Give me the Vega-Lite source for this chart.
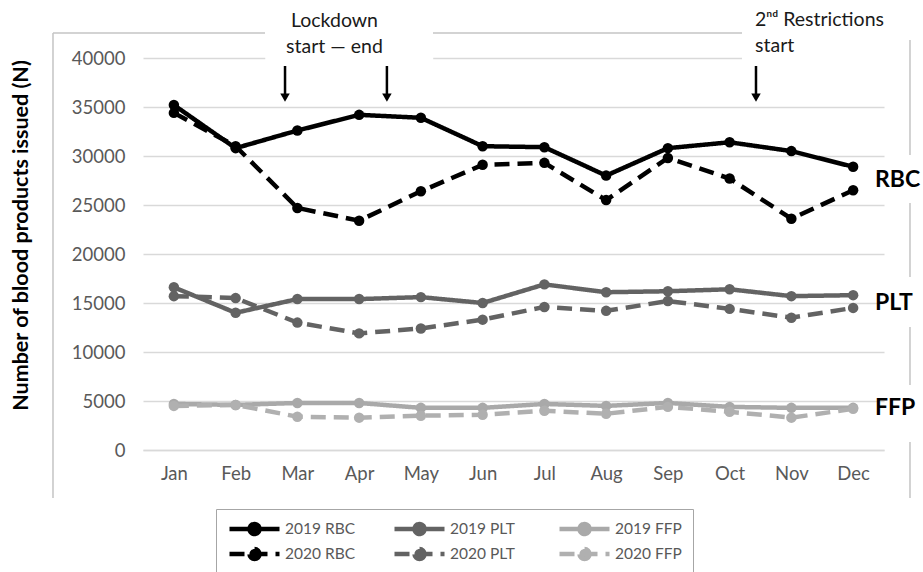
{
  "$schema": "https://vega.github.io/schema/vega-lite/v6.json",
  "width": 741,
  "height": 392,
  "autosize": {"type": "none"},
  "padding": {"left": 143, "top": 58, "right": 39, "bottom": 122},
  "background": "white",
  "config": {"view": {"stroke": null}, "font": "Lato"},
  "layer": [
    {
      "data": {"values": [
        {"m": 1, "series": "2019 RBC", "n": 35200}, {"m": 2, "series": "2019 RBC", "n": 30800}, {"m": 3, "series": "2019 RBC", "n": 32600}, {"m": 4, "series": "2019 RBC", "n": 34200}, {"m": 5, "series": "2019 RBC", "n": 33900}, {"m": 6, "series": "2019 RBC", "n": 31000}, {"m": 7, "series": "2019 RBC", "n": 30900}, {"m": 8, "series": "2019 RBC", "n": 28000}, {"m": 9, "series": "2019 RBC", "n": 30800}, {"m": 10, "series": "2019 RBC", "n": 31400}, {"m": 11, "series": "2019 RBC", "n": 30500}, {"m": 12, "series": "2019 RBC", "n": 28900},
        {"m": 1, "series": "2019 PLT", "n": 16600}, {"m": 2, "series": "2019 PLT", "n": 14000}, {"m": 3, "series": "2019 PLT", "n": 15400}, {"m": 4, "series": "2019 PLT", "n": 15400}, {"m": 5, "series": "2019 PLT", "n": 15600}, {"m": 6, "series": "2019 PLT", "n": 15000}, {"m": 7, "series": "2019 PLT", "n": 16900}, {"m": 8, "series": "2019 PLT", "n": 16100}, {"m": 9, "series": "2019 PLT", "n": 16200}, {"m": 10, "series": "2019 PLT", "n": 16400}, {"m": 11, "series": "2019 PLT", "n": 15700}, {"m": 12, "series": "2019 PLT", "n": 15800},
        {"m": 1, "series": "2019 FFP", "n": 4700}, {"m": 2, "series": "2019 FFP", "n": 4600}, {"m": 3, "series": "2019 FFP", "n": 4800}, {"m": 4, "series": "2019 FFP", "n": 4800}, {"m": 5, "series": "2019 FFP", "n": 4300}, {"m": 6, "series": "2019 FFP", "n": 4300}, {"m": 7, "series": "2019 FFP", "n": 4700}, {"m": 8, "series": "2019 FFP", "n": 4500}, {"m": 9, "series": "2019 FFP", "n": 4800}, {"m": 10, "series": "2019 FFP", "n": 4400}, {"m": 11, "series": "2019 FFP", "n": 4300}, {"m": 12, "series": "2019 FFP", "n": 4300},
        {"m": 1, "series": "2020 RBC", "n": 34400}, {"m": 2, "series": "2020 RBC", "n": 31000}, {"m": 3, "series": "2020 RBC", "n": 24700}, {"m": 4, "series": "2020 RBC", "n": 23400}, {"m": 5, "series": "2020 RBC", "n": 26400}, {"m": 6, "series": "2020 RBC", "n": 29100}, {"m": 7, "series": "2020 RBC", "n": 29300}, {"m": 8, "series": "2020 RBC", "n": 25500}, {"m": 9, "series": "2020 RBC", "n": 29800}, {"m": 10, "series": "2020 RBC", "n": 27700}, {"m": 11, "series": "2020 RBC", "n": 23600}, {"m": 12, "series": "2020 RBC", "n": 26500},
        {"m": 1, "series": "2020 PLT", "n": 15700}, {"m": 2, "series": "2020 PLT", "n": 15500}, {"m": 3, "series": "2020 PLT", "n": 13000}, {"m": 4, "series": "2020 PLT", "n": 11900}, {"m": 5, "series": "2020 PLT", "n": 12400}, {"m": 6, "series": "2020 PLT", "n": 13300}, {"m": 7, "series": "2020 PLT", "n": 14600}, {"m": 8, "series": "2020 PLT", "n": 14200}, {"m": 9, "series": "2020 PLT", "n": 15200}, {"m": 10, "series": "2020 PLT", "n": 14400}, {"m": 11, "series": "2020 PLT", "n": 13500}, {"m": 12, "series": "2020 PLT", "n": 14500},
        {"m": 1, "series": "2020 FFP", "n": 4500}, {"m": 2, "series": "2020 FFP", "n": 4600}, {"m": 3, "series": "2020 FFP", "n": 3400}, {"m": 4, "series": "2020 FFP", "n": 3300}, {"m": 5, "series": "2020 FFP", "n": 3500}, {"m": 6, "series": "2020 FFP", "n": 3600}, {"m": 7, "series": "2020 FFP", "n": 4000}, {"m": 8, "series": "2020 FFP", "n": 3700}, {"m": 9, "series": "2020 FFP", "n": 4400}, {"m": 10, "series": "2020 FFP", "n": 3900}, {"m": 11, "series": "2020 FFP", "n": 3300}, {"m": 12, "series": "2020 FFP", "n": 4200}
      ]},
      "mark": {"type": "line", "strokeWidth": 4.5, "point": {"filled": true, "size": 110}},
      "encoding": {
        "x": {"field": "m", "type": "quantitative", "scale": {"domain": [0.5, 12.5], "nice": false, "zero": false},
          "axis": {"title": null, "values": [1,2,3,4,5,6,7,8,9,10,11,12], "labelExpr": "['Jan','Feb','Mar','Apr','May','Jun','Jul','Aug','Sep','Oct','Nov','Dec'][datum.value-1]", "grid": false, "ticks": false, "domain": true, "domainColor": "#d9d9d9", "domainWidth": 1.5, "labelFont": "Lato", "labelFontSize": 18.5, "labelColor": "#595959", "labelPadding": 14}},
        "y": {"field": "n", "type": "quantitative", "scale": {"domain": [0, 40000], "nice": false},
          "axis": {"title": "Number of blood products issued (N)", "values": [0,5000,10000,15000,20000,25000,30000,35000,40000], "format": "d", "grid": true, "gridColor": "#d9d9d9", "gridWidth": 1.5, "domain": false, "ticks": false, "labelFont": "Lato", "labelFontSize": 18.5, "labelColor": "#595959", "labelPadding": 18, "titleFont": "Lato", "titleFontSize": 21.5, "titleFontWeight": "bold", "titleColor": "#000000", "titleX": -122, "titleY": 177, "titleBaseline": "middle", "titleAngle": -90}},
        "color": {"field": "series", "type": "nominal",
          "scale": {"domain": ["2019 RBC", "2019 PLT", "2019 FFP", "2020 RBC", "2020 PLT", "2020 FFP"], "range": ["#000000", "#636363", "#a9a9a9", "#000000", "#636363", "#b0b0b0"]},
          "legend": {"title": null, "orient": "none", "legendX": 73, "legendY": 451, "columns": 3, "direction": "horizontal", "gridAlign": "all", "symbolType": "M-1,0H1M0.2,0A0.2,0.2,0,1,1,-0.2,0A0.2,0.2,0,1,1,0.2,0Z", "symbolSize": 2500, "symbolStrokeWidth": 4.5, "clipHeight": 18, "rowPadding": 7, "columnPadding": 36, "padding": 11, "strokeColor": "#a6a6a6", "fillColor": "white", "labelFont": "Lato", "labelFontSize": 15.5, "labelColor": "#595959", "labelOffset": 3, "labelLimit": 200,
            "encode": {"symbols": {"update": {"fill": {"scale": "color", "field": "value"}, "opacity": {"value": 1}}}}}},
        "strokeDash": {"field": "series", "type": "nominal",
          "scale": {"domain": ["2019 RBC", "2019 PLT", "2019 FFP", "2020 RBC", "2020 PLT", "2020 FFP"], "range": [[1, 0], [1, 0], [1, 0], [15, 8], [15, 8], [15, 8]]},
          "legend": {"title": null, "orient": "none", "legendX": 73, "legendY": 451, "columns": 3, "direction": "horizontal", "gridAlign": "all", "symbolType": "M-1,0H1M0.2,0A0.2,0.2,0,1,1,-0.2,0A0.2,0.2,0,1,1,0.2,0Z", "symbolSize": 2500, "symbolStrokeWidth": 4.5, "clipHeight": 18, "rowPadding": 7, "columnPadding": 36, "padding": 11, "strokeColor": "#a6a6a6", "fillColor": "white", "labelFont": "Lato", "labelFontSize": 15.5, "labelColor": "#595959", "labelOffset": 3, "labelLimit": 200}}
      }
    },
    {
      "data": {"values": [{}]},
      "mark": {"type": "rect", "fill": "white"},
      "encoding": {"x": {"datum": 2.48, "type": "quantitative"}, "x2": {"datum": 5.2}, "y": {"datum": 39400, "type": "quantitative"}, "y2": {"datum": 40600}}
    },
    {
      "data": {"values": [{}]},
      "mark": {"type": "rect", "fill": "white"},
      "encoding": {"x": {"datum": 10.2, "type": "quantitative"}, "x2": {"datum": 12.6}, "y": {"datum": 39400, "type": "quantitative"}, "y2": {"datum": 40600}}
    },
    {
      "data": {"values": [{}]},
      "mark": {"type": "rule", "color": "#c4c4c4", "strokeWidth": 1.5},
      "encoding": {"x": {"datum": -0.9575, "type": "quantitative"}, "y": {"datum": 42551, "type": "quantitative"}, "y2": {"datum": -4898}}
    },
    {
      "data": {"values": [{}]},
      "mark": {"type": "rule", "color": "#c4c4c4", "strokeWidth": 1.5},
      "encoding": {"x": {"datum": -0.9575, "type": "quantitative"}, "x2": {"datum": 2.4757}, "y": {"datum": 42551, "type": "quantitative"}}
    },
    {
      "data": {"values": [{}]},
      "mark": {"type": "rule", "color": "#c4c4c4", "strokeWidth": 1.5},
      "encoding": {"x": {"datum": 5.1964, "type": "quantitative"}, "x2": {"datum": 10.2004}, "y": {"datum": 42551, "type": "quantitative"}}
    },
    {
      "data": {"values": [{}]},
      "mark": {"type": "rule", "color": "#c4c4c4", "strokeWidth": 1.5},
      "encoding": {"x": {"datum": 12.921, "type": "quantitative"}, "y": {"datum": 41837, "type": "quantitative"}, "y2": {"datum": 30102}}
    },
    {
      "data": {"values": [{}]},
      "mark": {"type": "rule", "color": "#c4c4c4", "strokeWidth": 1.5},
      "encoding": {"x": {"datum": 12.921, "type": "quantitative"}, "y": {"datum": 25204, "type": "quantitative"}, "y2": {"datum": 17653}}
    },
    {
      "data": {"values": [{}]},
      "mark": {"type": "rule", "color": "#c4c4c4", "strokeWidth": 1.5},
      "encoding": {"x": {"datum": 12.921, "type": "quantitative"}, "y": {"datum": 12551, "type": "quantitative"}, "y2": {"datum": 6633}}
    },
    {
      "data": {"values": [{}]},
      "mark": {"type": "rule", "color": "#c4c4c4", "strokeWidth": 1.5},
      "encoding": {"x": {"datum": 12.921, "type": "quantitative"}, "y": {"datum": 816, "type": "quantitative"}, "y2": {"datum": -4898}}
    },
    {
      "data": {"values": [{"x": 2.8}, {"x": 4.45}, {"x": 10.427}]},
      "mark": {"type": "rule", "color": "#000000", "strokeWidth": 2.5},
      "encoding": {"x": {"field": "x", "type": "quantitative"}, "y": {"datum": 39184, "type": "quantitative"}, "y2": {"datum": 36300}}
    },
    {
      "data": {"values": [{"x": 2.8}, {"x": 4.45}, {"x": 10.427}]},
      "mark": {"type": "point", "shape": "triangle-down", "filled": true, "color": "#000000", "size": 90, "opacity": 1},
      "encoding": {"x": {"field": "x", "type": "quantitative"}, "y": {"datum": 35950, "type": "quantitative"}}
    },
    {
      "data": {"values": [{"t": "Lockdown", "x": 3.6, "y": 43775}, {"t": "start \u2014 end", "x": 3.6, "y": 41122}]},
      "mark": {"type": "text", "font": "Lato", "fontSize": 19.5, "color": "#1a1a1a", "align": "center", "baseline": "middle"},
      "encoding": {"x": {"field": "x", "type": "quantitative"}, "y": {"field": "y", "type": "quantitative"}, "text": {"field": "t"}}
    },
    {
      "data": {"values": [{"t": "2\u207f\u1d48 Restrictions", "x": 10.411, "y": 43877}, {"t": "start", "x": 10.411, "y": 41224}]},
      "mark": {"type": "text", "font": "Lato", "fontSize": 19.5, "color": "#1a1a1a", "align": "left", "baseline": "middle"},
      "encoding": {"x": {"field": "x", "type": "quantitative"}, "y": {"field": "y", "type": "quantitative"}, "text": {"field": "t"}}
    },
    {
      "data": {"values": [{"t": "RBC", "x": 12.354, "y": 27551}, {"t": "PLT", "x": 12.354, "y": 15000}, {"t": "FFP", "x": 12.354, "y": 4286}]},
      "mark": {"type": "text", "font": "Lato", "fontSize": 23, "fontWeight": "bold", "color": "#000000", "align": "left", "baseline": "middle"},
      "encoding": {"x": {"field": "x", "type": "quantitative"}, "y": {"field": "y", "type": "quantitative"}, "text": {"field": "t"}}
    }
  ]
}
